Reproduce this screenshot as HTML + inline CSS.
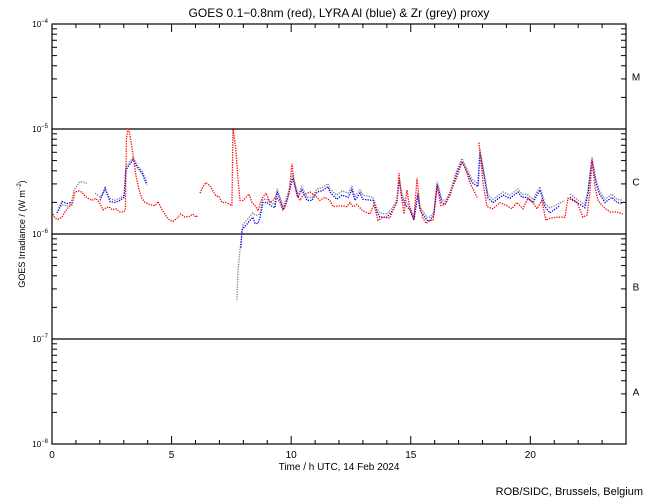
<!DOCTYPE html>
<html><head><meta charset="utf-8">
<style>
body{margin:0;background:#fff;}
svg{display:block;font-family:"Liberation Sans",sans-serif;}
</style></head>
<body>
<svg id="chart" width="650" height="500" viewBox="0 0 650 500">
<rect width="650" height="500" fill="#fff"/>
<text x="339" y="17" font-size="12" text-anchor="middle">GOES 0.1−0.8nm (red), LYRA Al (blue) &amp; Zr (grey) proxy</text>
<g id="grid"></g>
<g id="series"></g>
<g id="axes"></g>
<text x="339" y="470" font-size="10" text-anchor="middle">Time / h UTC, 14 Feb 2024</text>
<text transform="translate(25,234) rotate(-90)" font-size="9" text-anchor="middle">GOES Irradiance / (W m<tspan font-size="6" dy="-4">−2</tspan><tspan dy="4">)</tspan></text>
<text x="643" y="495" font-size="11" text-anchor="end">ROB/SIDC, Brussels, Belgium</text>
</svg>
<script>
const redT=[0.04,0.13,0.25,0.42,0.54,0.67,0.84,0.96,1.09,1.25,1.38,1.51,1.67,1.84,2.01,2.13,2.26,2.38,2.51,2.68,2.84,3.01,3.07,3.11,3.18,3.26,3.39,3.51,3.64,3.76,3.89,4.10,4.31,4.43,4.60,4.77,4.93,5.06,5.23,5.39,5.56,5.77,5.89,6.02,6.10,null,6.19,6.31,6.44,6.60,6.73,6.86,6.98,7.11,7.27,7.44,7.52,7.57,7.69,7.78,7.86,7.98,8.11,8.24,8.36,8.53,8.61,8.78,8.95,9.11,9.24,9.36,9.53,9.66,9.74,9.91,10.03,10.12,10.24,10.37,10.49,10.79,11.08,11.20,11.41,11.62,11.75,12.04,12.33,12.46,12.58,12.75,13.00,13.29,13.46,13.63,13.84,14.13,14.26,14.42,14.51,14.59,14.72,14.84,14.97,15.13,15.26,15.38,15.51,15.64,15.80,15.93,16.10,16.26,16.43,16.64,16.93,17.14,17.27,17.47,17.77,null,17.85,18.02,18.19,18.44,18.73,19.02,19.23,19.44,19.69,19.90,20.11,20.28,20.48,20.65,20.82,21.11,21.45,21.57,21.95,22.20,22.37,22.49,22.58,22.70,22.83,23.04,23.33,23.62,23.87];
const redV=[-5.81,-5.85,-5.86,-5.84,-5.79,-5.75,-5.72,-5.60,-5.59,-5.60,-5.64,-5.66,-5.68,-5.66,-5.71,-5.77,-5.75,-5.74,-5.77,-5.76,-5.79,-5.79,-5.76,-5.10,-4.99,-5.06,-5.25,-5.44,-5.58,-5.66,-5.70,-5.72,-5.73,-5.69,-5.77,-5.83,-5.87,-5.88,-5.85,-5.81,-5.84,-5.83,-5.81,-5.84,-5.82,null,-5.61,-5.55,-5.51,-5.54,-5.59,-5.64,-5.64,-5.70,-5.70,-5.72,-5.73,-4.99,-5.20,-5.49,-5.68,-5.68,-5.65,-5.62,-5.70,-5.74,-5.78,-5.66,-5.61,-5.70,-5.68,-5.64,-5.70,-5.77,-5.75,-5.62,-5.33,-5.49,-5.63,-5.68,-5.63,-5.60,-5.65,-5.68,-5.65,-5.68,-5.74,-5.73,-5.74,-5.70,-5.74,-5.72,-5.78,-5.81,-5.72,-5.87,-5.84,-5.85,-5.77,-5.70,-5.42,-5.61,-5.81,-5.58,-5.77,-5.86,-5.47,-5.74,-5.85,-5.90,-5.87,-5.87,-5.55,-5.73,-5.72,-5.61,-5.46,-5.32,-5.36,-5.51,-5.65,null,-5.13,-5.51,-5.74,-5.76,-5.70,-5.73,-5.76,-5.70,-5.76,-5.66,-5.70,-5.76,-5.68,-5.87,-5.85,-5.84,-5.84,-5.66,-5.70,-5.84,-5.82,-5.60,-5.30,-5.55,-5.68,-5.74,-5.79,-5.79,-5.81];
const blueT=[0.21,0.42,0.63,0.79,null,2.01,2.22,2.42,2.63,2.84,3.01,3.09,3.39,3.55,3.76,3.97,null,7.90,7.94,8.40,8.49,8.61,8.70,8.82,8.99,9.16,9.32,9.41,9.57,9.66,9.82,10.07,10.28,10.45,10.66,10.87,11.08,11.29,11.54,11.62,11.91,12.12,12.38,12.54,12.67,12.88,13.00,13.42,13.59,13.71,14.01,14.26,14.42,14.51,14.63,14.76,14.97,15.13,15.30,15.38,15.68,15.80,15.97,16.10,16.30,16.43,16.64,16.93,17.14,17.35,17.56,17.81,17.89,18.23,18.44,18.86,19.15,19.48,19.65,19.86,20.11,20.40,20.61,20.82,21.11,21.24,null,21.66,21.95,22.28,22.41,22.58,22.74,22.87,23.12,23.41,23.62,23.87];
const blueV=[-5.80,-5.69,-5.71,-5.70,null,-5.68,-5.56,-5.69,-5.70,-5.68,-5.65,-5.39,-5.29,-5.36,-5.42,-5.53,null,-6.13,-5.96,-5.84,-5.90,-5.90,-5.84,-5.70,-5.70,-5.73,-5.75,-5.60,-5.70,-5.77,-5.68,-5.47,-5.65,-5.58,-5.68,-5.68,-5.60,-5.59,-5.55,-5.60,-5.67,-5.63,-5.65,-5.58,-5.68,-5.61,-5.67,-5.68,-5.79,-5.84,-5.84,-5.77,-5.70,-5.49,-5.65,-5.72,-5.77,-5.87,-5.63,-5.77,-5.87,-5.87,-5.82,-5.53,-5.70,-5.72,-5.63,-5.42,-5.31,-5.41,-5.51,-5.55,-5.22,-5.66,-5.70,-5.63,-5.66,-5.60,-5.65,-5.65,-5.70,-5.58,-5.74,-5.80,-5.75,-5.73,null,-5.65,-5.70,-5.75,-5.61,-5.30,-5.51,-5.61,-5.70,-5.65,-5.70,-5.71];
const greyT=[0.21,0.42,0.63,0.79,0.92,1.17,1.38,1.46,null,1.80,2.01,2.22,2.42,2.63,2.84,3.01,3.09,3.39,3.55,3.76,3.97,null,7.73,7.78,7.86,7.94,7.98,8.40,8.49,8.61,8.70,8.82,8.99,9.16,9.32,9.41,9.57,9.66,9.82,10.07,10.28,10.45,10.66,10.87,11.08,11.29,11.54,11.62,11.91,12.12,12.38,12.54,12.67,12.88,13.00,13.42,13.59,13.71,14.01,14.26,14.42,14.51,14.63,14.76,14.97,15.13,15.30,15.38,15.68,15.80,15.97,16.10,16.30,16.43,16.64,16.93,17.14,17.35,17.56,17.81,17.89,18.23,18.44,18.86,19.15,19.48,19.65,19.86,20.11,20.40,20.61,20.82,21.11,21.45,null,21.66,21.95,22.28,22.41,22.58,22.74,22.87,23.12,23.41,23.62,23.87];
const greyV=[-5.80,-5.72,-5.73,-5.72,-5.58,-5.50,-5.51,-5.52,null,-5.61,-5.65,-5.58,-5.66,-5.68,-5.66,-5.63,-5.36,-5.27,-5.34,-5.40,-5.51,null,-6.63,-6.34,-6.15,-6.01,-5.91,-5.80,-5.82,-5.82,-5.80,-5.67,-5.67,-5.70,-5.72,-5.57,-5.67,-5.74,-5.65,-5.44,-5.62,-5.55,-5.65,-5.65,-5.57,-5.56,-5.52,-5.57,-5.63,-5.59,-5.61,-5.55,-5.64,-5.58,-5.63,-5.65,-5.76,-5.80,-5.81,-5.74,-5.67,-5.46,-5.62,-5.69,-5.74,-5.84,-5.60,-5.74,-5.84,-5.84,-5.79,-5.50,-5.67,-5.69,-5.60,-5.39,-5.28,-5.38,-5.48,-5.52,-5.19,-5.63,-5.67,-5.60,-5.63,-5.57,-5.62,-5.62,-5.67,-5.55,-5.71,-5.75,-5.72,-5.68,null,-5.62,-5.67,-5.72,-5.58,-5.27,-5.48,-5.58,-5.67,-5.62,-5.67,-5.68];
const xTickLabels=["0","5","10","15","20"];
const yTickExps=["-4","-5","-6","-7","-8"];
const classLabels=["M","C","B","A"];

const X0=52,X1=626,Y0=24,Y1=444;
const xs=h=>X0+(X1-X0)*h/24;
const ys=l=>Y0+(Y1-Y0)*(-4-l)/4;
const NS="http://www.w3.org/2000/svg";
function mk(tag,attrs,parent){const e=document.createElementNS(NS,tag);for(const k in attrs)e.setAttribute(k,attrs[k]);parent.appendChild(e);return e;}
const grid=document.getElementById('grid'),axes=document.getElementById('axes'),ser=document.getElementById('series');

for(let l=-5;l>=-7;l--){
  const ln=mk('line',{x1:X0,x2:X1,y1:ys(l),y2:ys(l),stroke:'#000','stroke-width':1.2},grid);
  
  
}
const frame=mk('rect',{x:X0,y:Y0,width:X1-X0,height:Y1-Y0,fill:'none',stroke:'#000','stroke-width':1.2},axes);


for(let h=0;h<=24;h++){
  const L=h%5===0?8:4;
  mk('line',{x1:xs(h),x2:xs(h),y1:Y1,y2:Y1-L,stroke:'#000'},axes);
  mk('line',{x1:xs(h),x2:xs(h),y1:Y0,y2:Y0+L,stroke:'#000'},axes);
}
xTickLabels.forEach(s=>{
  const t=mk('text',{x:xs(+s),y:Y1+14,'font-size':10,'text-anchor':'middle'},axes);
  t.textContent=s;
  
  
});
for(let d=-8;d<-4;d++){
  for(let m=2;m<=9;m++){
    const y=ys(d+Math.log10(m));
    mk('line',{x1:X0,x2:X0+5,y1:y,y2:y,stroke:'#000'},axes);
    mk('line',{x1:X1,x2:X1-5,y1:y,y2:y,stroke:'#000'},axes);
  }
}
yTickExps.forEach(e=>{
  const y=ys(+e);
  mk('line',{x1:X0,x2:X0+9,y1:y,y2:y,stroke:'#000'},axes);
  mk('line',{x1:X1,x2:X1-9,y1:y,y2:y,stroke:'#000'},axes);
  const t=mk('text',{x:X0-4,y:y+3,'font-size':8,'text-anchor':'end'},axes);
  t.innerHTML='10<tspan font-size="6" dy="-4">'+e.replace('-','−')+'</tspan>';
  
  
});
classLabels.forEach((c,i)=>{
  const t=mk('text',{x:636,y:ys(-4.5-i)+4,'font-size':10,'text-anchor':'middle'},axes);
  t.textContent=c;
  
  
});
function drawSeries(T,V,color,name){
  const g=mk('g',{},ser);
  
  
  let d='',pen=false;
  for(let i=0;i<T.length;i++){
    if(T[i]===null||V[i]===null){pen=false;continue;}
    d+=(pen?'L':'M')+xs(T[i]).toFixed(1)+' '+ys(V[i]).toFixed(1);pen=true;
  }
  mk('path',{d:d,fill:'none',stroke:color,'stroke-width':1.3,'stroke-dasharray':'1.3 1.2'},g);
}
drawSeries(greyT,greyV,'#808080','lyra-zr-series');
drawSeries(blueT,blueV,'#0000ff','lyra-al-series');
drawSeries(redT,redV,'#ff0000','goes-xray-series');
</script>
</body></html>
